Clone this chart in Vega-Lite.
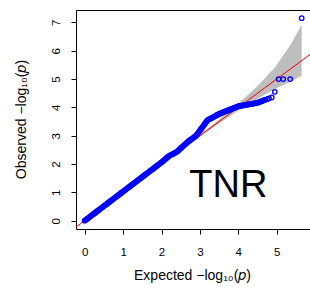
{
  "$schema": "https://vega.github.io/schema/vega-lite/v6.json",
  "autosize": "none",
  "width": 235,
  "height": 219,
  "padding": {"left": 76, "top": 10, "right": 0, "bottom": 59},
  "background": "white",
  "config": {"view": {"stroke": "black", "strokeWidth": 1}},
  "datasets": {
    "pts": [
      {"x":0,"y":0},{"x":0.025,"y":0.026},{"x":0.05,"y":0.052},{"x":0.075,"y":0.077},{"x":0.1,"y":0.103},
      {"x":0.125,"y":0.129},{"x":0.15,"y":0.155},{"x":0.175,"y":0.18},{"x":0.2,"y":0.206},{"x":0.225,"y":0.232},
      {"x":0.25,"y":0.258},{"x":0.275,"y":0.283},{"x":0.3,"y":0.309},{"x":0.325,"y":0.335},{"x":0.35,"y":0.361},
      {"x":0.375,"y":0.386},{"x":0.4,"y":0.412},{"x":0.425,"y":0.438},{"x":0.45,"y":0.464},{"x":0.475,"y":0.489},
      {"x":0.5,"y":0.515},{"x":0.525,"y":0.541},{"x":0.55,"y":0.567},{"x":0.575,"y":0.592},{"x":0.6,"y":0.618},
      {"x":0.625,"y":0.644},{"x":0.65,"y":0.67},{"x":0.675,"y":0.695},{"x":0.7,"y":0.721},{"x":0.725,"y":0.747},
      {"x":0.75,"y":0.773},{"x":0.775,"y":0.798},{"x":0.8,"y":0.824},{"x":0.825,"y":0.85},{"x":0.85,"y":0.876},
      {"x":0.875,"y":0.901},{"x":0.9,"y":0.927},{"x":0.925,"y":0.953},{"x":0.95,"y":0.979},{"x":0.975,"y":1.004},
      {"x":1,"y":1.03},{"x":1.025,"y":1.056},{"x":1.05,"y":1.082},{"x":1.075,"y":1.107},{"x":1.1,"y":1.133},
      {"x":1.125,"y":1.159},{"x":1.15,"y":1.185},{"x":1.175,"y":1.21},{"x":1.2,"y":1.236},{"x":1.225,"y":1.262},
      {"x":1.25,"y":1.288},{"x":1.275,"y":1.313},{"x":1.3,"y":1.339},{"x":1.325,"y":1.365},{"x":1.35,"y":1.391},
      {"x":1.375,"y":1.416},{"x":1.4,"y":1.442},{"x":1.425,"y":1.468},{"x":1.45,"y":1.494},{"x":1.475,"y":1.519},
      {"x":1.5,"y":1.545},{"x":1.525,"y":1.571},{"x":1.55,"y":1.597},{"x":1.575,"y":1.622},{"x":1.6,"y":1.648},
      {"x":1.625,"y":1.674},{"x":1.65,"y":1.7},{"x":1.675,"y":1.725},{"x":1.7,"y":1.751},{"x":1.725,"y":1.777},
      {"x":1.75,"y":1.803},{"x":1.775,"y":1.828},{"x":1.8,"y":1.854},{"x":1.825,"y":1.88},{"x":1.85,"y":1.906},
      {"x":1.875,"y":1.931},{"x":1.9,"y":1.957},{"x":1.925,"y":1.983},{"x":1.95,"y":2.009},{"x":1.975,"y":2.034},
      {"x":2,"y":2.06},{"x":2.025,"y":2.089},{"x":2.05,"y":2.118},{"x":2.075,"y":2.146},{"x":2.1,"y":2.175},
      {"x":2.125,"y":2.204},{"x":2.15,"y":2.233},{"x":2.175,"y":2.261},{"x":2.2,"y":2.29},{"x":2.225,"y":2.308},
      {"x":2.25,"y":2.325},{"x":2.275,"y":2.343},{"x":2.3,"y":2.36},{"x":2.325,"y":2.378},{"x":2.35,"y":2.395},
      {"x":2.375,"y":2.413},{"x":2.4,"y":2.43},{"x":2.425,"y":2.461},{"x":2.45,"y":2.492},{"x":2.475,"y":2.522},
      {"x":2.5,"y":2.553},{"x":2.525,"y":2.584},{"x":2.55,"y":2.615},{"x":2.575,"y":2.646},{"x":2.6,"y":2.677},
      {"x":2.625,"y":2.707},{"x":2.65,"y":2.738},{"x":2.675,"y":2.769},{"x":2.7,"y":2.8},{"x":2.725,"y":2.825},
      {"x":2.75,"y":2.85},{"x":2.775,"y":2.875},{"x":2.8,"y":2.9},{"x":2.825,"y":2.925},{"x":2.85,"y":2.95},
      {"x":2.875,"y":2.975},{"x":2.9,"y":3.0},{"x":2.925,"y":3.046},{"x":2.95,"y":3.092},{"x":2.975,"y":3.138},
      {"x":3,"y":3.183},{"x":3.025,"y":3.229},{"x":3.05,"y":3.275},{"x":3.075,"y":3.321},{"x":3.1,"y":3.367},
      {"x":3.125,"y":3.413},{"x":3.15,"y":3.458},{"x":3.175,"y":3.504},{"x":3.2,"y":3.55},{"x":3.225,"y":3.568},
      {"x":3.25,"y":3.585},{"x":3.275,"y":3.603},{"x":3.3,"y":3.62},{"x":3.325,"y":3.639},{"x":3.35,"y":3.658},
      {"x":3.375,"y":3.676},{"x":3.4,"y":3.695},{"x":3.425,"y":3.714},{"x":3.45,"y":3.733},{"x":3.475,"y":3.751},
      {"x":3.5,"y":3.77},{"x":3.525,"y":3.784},{"x":3.55,"y":3.797},{"x":3.575,"y":3.811},{"x":3.6,"y":3.824},
      {"x":3.625,"y":3.838},{"x":3.65,"y":3.851},{"x":3.675,"y":3.865},{"x":3.7,"y":3.878},{"x":3.725,"y":3.892},
      {"x":3.75,"y":3.905},{"x":3.775,"y":3.919},{"x":3.8,"y":3.932},{"x":3.825,"y":3.946},{"x":3.85,"y":3.959},
      {"x":3.875,"y":3.973},{"x":3.9,"y":3.986},{"x":3.925,"y":4.0},{"x":3.95,"y":4.013},{"x":3.975,"y":4.027},
      {"x":4,"y":4.04},{"x":4.025,"y":4.046},{"x":4.05,"y":4.052},{"x":4.075,"y":4.058},{"x":4.1,"y":4.064},
      {"x":4.125,"y":4.07},{"x":4.15,"y":4.076},{"x":4.175,"y":4.082},{"x":4.2,"y":4.088},{"x":4.225,"y":4.094},
      {"x":4.25,"y":4.1},{"x":4.275,"y":4.106},{"x":4.3,"y":4.112},{"x":4.325,"y":4.118},{"x":4.35,"y":4.124},
      {"x":4.375,"y":4.13},{"x":4.4,"y":4.136},{"x":4.425,"y":4.142},{"x":4.45,"y":4.148},{"x":4.475,"y":4.154},
      {"x":4.5,"y":4.16},{"x":4.525,"y":4.173},{"x":4.55,"y":4.187},{"x":4.575,"y":4.2},{"x":4.6,"y":4.213},
      {"x":4.625,"y":4.227},{"x":4.65,"y":4.24},{"x":4.675,"y":4.253},{"x":4.7,"y":4.267},{"x":4.75,"y":4.29},
      {"x":4.8,"y":4.32},{"x":4.87,"y":4.35},{"x":4.95,"y":4.55},{"x":5.05,"y":5.0},{"x":5.17,"y":5.0},
      {"x":5.35,"y":5.0},{"x":5.65,"y":7.15}
    ],
    "band": [
      {"x":2.65,"lo":2.62,"y":2.68},
      {"x":3.17,"lo":3.12,"y":3.22},
      {"x":3.65,"lo":3.57,"y":3.74},
      {"x":3.95,"lo":3.84,"y":4.09},
      {"x":4.17,"lo":4.02,"y":4.34},
      {"x":4.35,"lo":4.16,"y":4.56},
      {"x":4.65,"lo":4.42,"y":4.97},
      {"x":4.80,"lo":4.53,"y":5.20},
      {"x":4.95,"lo":4.64,"y":5.40},
      {"x":5.05,"lo":4.71,"y":5.60},
      {"x":5.17,"lo":4.79,"y":5.84},
      {"x":5.35,"lo":4.90,"y":6.18},
      {"x":5.65,"lo":5.12,"y":6.92}
    ],
    "diag": [{"x":-0.5,"y":-0.5},{"x":6.5,"y":6.5}],
    "lab": [{"x":3.74,"y":0.85,"label":"TNR"}]
  },
  "encoding": {
    "x": {"field": "x", "type": "quantitative",
      "scale": {"domain": [-0.2266, 5.893], "nice": false, "zero": false},
      "axis": {
        "title": "Expected  −log₁₀(𝑝)",
        "values": [0,1,2,3,4,5],
        "domain": false, "grid": false, "labelOverlap": false, "labelBound": false,
        "tickSize": 5, "tickColor": "black", "tickWidth": 1,
        "labelFont": "Liberation Sans", "labelFontSize": 11.5, "labelColor": "black",
        "labelBaseline": "alphabetic", "labelPadding": 21,
        "titleFont": "Liberation Sans", "titleFontSize": 14, "titleFontWeight": "normal", "titleColor": "black",
        "titleBaseline": "alphabetic", "titleX": 116, "titleY": 50, "titleAnchor": "middle", "titleAlign": "center"
      }},
    "y": {"field": "y", "type": "quantitative",
      "scale": {"domain": [-0.293, 7.437], "nice": false, "zero": false},
      "axis": {
        "title": "Observed  −log₁₀(𝑝)",
        "values": [0,1,2,3,4,5,6,7],
        "domain": false, "grid": false, "labelOverlap": false, "labelBound": false,
        "tickSize": 5, "tickColor": "black", "tickWidth": 1,
        "labelFont": "Liberation Sans", "labelFontSize": 11.5, "labelColor": "black",
        "labelAngle": 270, "labelAlign": "center", "labelBaseline": "alphabetic", "labelPadding": 12,
        "titleFont": "Liberation Sans", "titleFontSize": 14, "titleFontWeight": "normal", "titleColor": "black",
        "titleAngle": 270, "titleBaseline": "alphabetic", "titleAlign": "center", "titleX": -51, "titleY": 109
      }}
  },
  "layer": [
    {
      "data": {"name": "band"},
      "mark": {"type": "area", "color": "#BEBEBE", "opacity": 1, "clip": true},
      "encoding": {"y2": {"field": "lo"}}
    },
    {
      "data": {"name": "diag"},
      "mark": {"type": "line", "color": "#FF0000", "strokeWidth": 1, "clip": true},
      "encoding": {}
    },
    {
      "data": {"name": "pts"},
      "mark": {"type": "point", "shape": "circle", "filled": false, "color": "#0000FF", "size": 20, "strokeWidth": 1.3, "opacity": 1, "clip": true},
      "encoding": {}
    },
    {
      "data": {"name": "lab"},
      "mark": {"type": "text", "font": "Liberation Sans", "fontSize": 38, "color": "black", "align": "center", "baseline": "alphabetic"},
      "encoding": {"text": {"field": "label"}}
    }
  ]
}
